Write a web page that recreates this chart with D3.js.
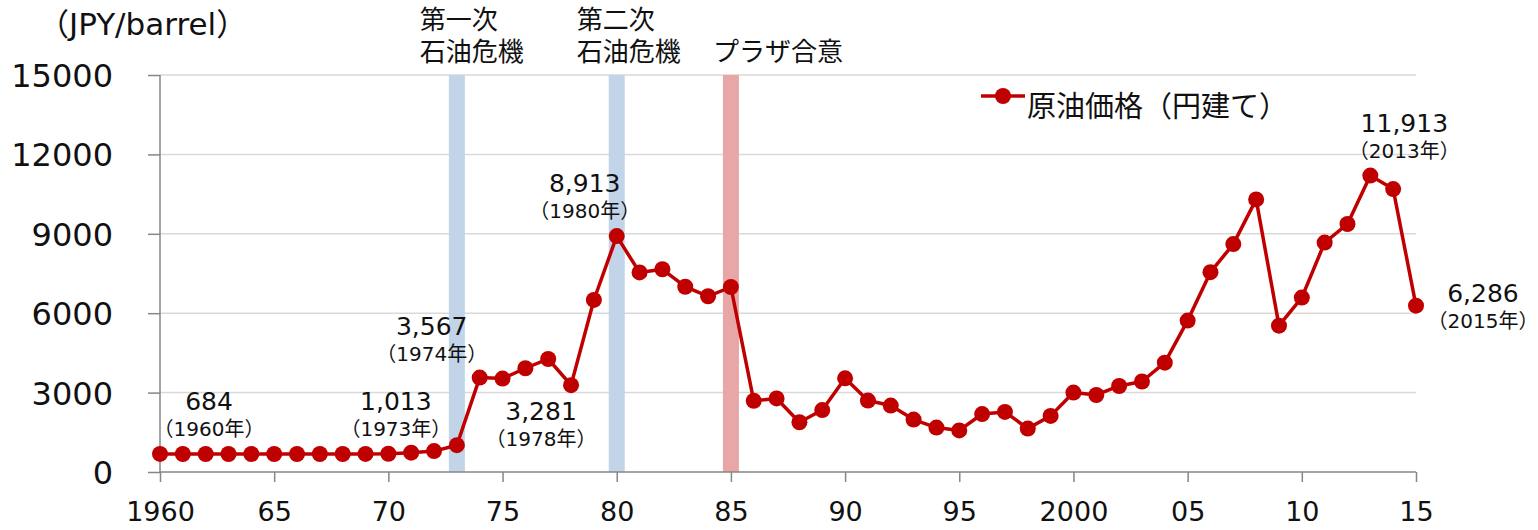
<!DOCTYPE html>
<html><head><meta charset="utf-8">
<script src="https://cdn.jsdelivr.net/npm/d3@7"></script>
<style>
body{margin:0;background:#fff;}
svg{display:block;}
text,tspan{font-family:"DejaVu Sans","Noto Sans CJK JP",sans-serif;fill:#111;}
.jp{font-family:"Noto Sans CJK JP","DejaVu Sans",sans-serif;}
</style></head>
<body>
<svg id="c" width="1538" height="530"></svg>
<script>
const years = d3.range(1960, 2016);
const prices = [684,680,680,680,680,680,680,680,680,682,690,730,790,1013,
  3567,3530,3920,4270,3281,6500,8913,7540,7660,7000,6640,6990,
  2690,2780,1880,2340,3540,2700,2510,1980,1680,1570,2190,2270,1640,2120,
  3000,2910,3250,3420,4130,5720,7550,8610,10300,5530,6590,8670,9370,11200,10690,6286];
const yTicks = [0,3000,6000,9000,12000,15000];
const xTicks = [1960,1965,1970,1975,1980,1985,1990,1995,2000,2005,2010,2015];
const xTickLabels = ["1960","65","70","75","80","85","90","95","2000","05","10","15"];
const eventYears = [1973,1980,1985];
const eventLines = [["第一次","石油危機"],["第二次","石油危機"],["プラザ合意"]];
const eventColors = ["#c2d4e8","#c2d4e8","#e8a6a6"];
const noteYears = [1960,1973,1974,1978,1980,2013,2015];
const noteValues = ["684","1,013","3,567","3,281","8,913","11,913","6,286"];
const noteSubs = ["（1960年）","（1973年）","（1974年）","（1978年）","（1980年）","（2013年）","（2015年）"];
const seriesName = "原油価格（円建て）";
const unitParts = ["（","JPY/barrel","）"];

const svg = d3.select("#c");
const x = d3.scaleLinear().domain([1960,2015]).range([160,1416]);
const y = d3.scaleLinear().domain([0,15000]).range([472,75]);
const red = "#c00000";

// gridlines
svg.append("g").selectAll("line").data(yTicks.filter(d=>d>0)).join("line")
  .attr("x1",160).attr("x2",1416).attr("y1",d=>y(d)).attr("y2",d=>y(d))
  .attr("stroke","#d9d9d9").attr("stroke-width",1.5);

// event bands
svg.append("g").selectAll("rect").data(eventYears).join("rect")
  .attr("x",d=>x(d)-8).attr("width",16).attr("y",y(15000)).attr("height",y(0)-y(15000))
  .attr("fill",(d,i)=>eventColors[i]);

// event labels (one text element per line)
const evOff = [-37,-40,-18];
eventYears.forEach((yr,i)=>{
  const lines = eventLines[i];
  lines.forEach((ln,j)=>{
    const base = lines.length===2 ? (j===0?29:61) : 61;
    svg.append("text").attr("class","jp").attr("font-size",26)
      .attr("x",x(yr)+evOff[i]).attr("y",base).text(ln);
  });
});

// y axis
const ya = svg.append("g").attr("transform","translate(160,0)")
  .call(d3.axisLeft(y).tickValues(yTicks).tickSize(12).tickPadding(35).tickFormat(d3.format("d")));
ya.select(".domain").attr("stroke","#868686").attr("stroke-width",1.5).attr("d","M0,"+y(15000)+"V"+y(0));
ya.selectAll(".tick line").attr("stroke","#868686").attr("stroke-width",1.5);
ya.selectAll(".tick text").attr("font-size",32).attr("font-family","DejaVu Sans").attr("fill","#111").attr("dy","0.36em");

// x axis
const xa = svg.append("g").attr("transform","translate(0,"+y(0)+")")
  .call(d3.axisBottom(x).tickValues(xTicks).tickSize(10).tickPadding(20).tickFormat((d,i)=>xTickLabels[i]));
xa.select(".domain").attr("stroke","#868686").attr("stroke-width",1.5).attr("d","M160,0H1416");
xa.selectAll(".tick line").attr("stroke","#868686").attr("stroke-width",1.5);
xa.selectAll(".tick text").attr("font-size",27).attr("font-family","DejaVu Sans").attr("fill","#111").attr("dy","0.71em");

// unit label
const ul = svg.append("text").attr("x",38).attr("y",35).attr("font-size",31);
ul.append("tspan").attr("class","jp").text(unitParts[0]);
ul.append("tspan").text(unitParts[1]);
ul.append("tspan").attr("class","jp").text(unitParts[2]);

// series line
const pts = years.map((yr,i)=>[yr,prices[i]]);
svg.append("path").datum(pts)
  .attr("d",d3.line().x(d=>x(d[0])).y(d=>y(d[1])))
  .attr("fill","none").attr("stroke",red).attr("stroke-width",3.5).attr("stroke-linejoin","round");
svg.append("g").selectAll("circle").data(pts).join("circle")
  .attr("cx",d=>x(d[0])).attr("cy",d=>y(d[1])).attr("r",8).attr("fill",red);

// annotations
const noteOff = [[49,-44],[-61,-35],[-48,-43],[-30,35],[-32,-44],[34,-44],[67,-4]];
noteYears.forEach((yr,i)=>{
  const px = x(yr), py = y(prices[years.indexOf(yr)]);
  const cx = px+noteOff[i][0], by = py+noteOff[i][1];
  svg.append("text").attr("x",cx).attr("y",by).attr("text-anchor","middle")
    .attr("font-size",25).text(noteValues[i]);
  svg.append("text").attr("x",cx).attr("y",by+26).attr("text-anchor","middle")
    .attr("font-size",20).text(noteSubs[i]);
});

// legend
svg.append("line").attr("x1",981).attr("x2",1025).attr("y1",96).attr("y2",96)
  .attr("stroke",red).attr("stroke-width",3.5);
svg.append("circle").attr("cx",1003).attr("cy",96).attr("r",8).attr("fill",red);
svg.append("text").attr("class","jp").attr("x",1027).attr("y",117).attr("font-size",29).text(seriesName);
</script>
</body></html>
